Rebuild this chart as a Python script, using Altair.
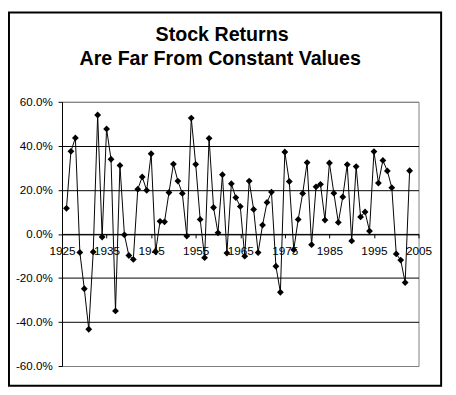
import altair as alt
import pandas as pd

YEARS = [1926, 1927, 1928, 1929, 1930, 1931, 1932, 1933, 1934, 1935,
         1936, 1937, 1938, 1939, 1940, 1941, 1942, 1943, 1944, 1945,
         1946, 1947, 1948, 1949, 1950, 1951, 1952, 1953, 1954, 1955,
         1956, 1957, 1958, 1959, 1960, 1961, 1962, 1963, 1964, 1965,
         1966, 1967, 1968, 1969, 1970, 1971, 1972, 1973, 1974, 1975,
         1976, 1977, 1978, 1979, 1980, 1981, 1982, 1983, 1984, 1985,
         1986, 1987, 1988, 1989, 1990, 1991, 1992, 1993, 1994, 1995,
         1996, 1997, 1998, 1999, 2000, 2001, 2002, 2003]

RETURNS_PCT = [11.6, 37.5, 43.6, -8.4, -24.9, -43.3, -8.2, 54.0, -1.4, 47.7,
               33.9, -35.0, 31.1, -0.4, -9.8, -11.6, 20.3, 25.9, 19.8, 36.4,
               -8.1, 5.7, 5.5, 18.8, 31.7, 24.0, 18.4, -1.0, 52.6, 31.6,
               6.6, -10.8, 43.4, 12.0, 0.5, 26.9, -8.7, 22.8, 16.5, 12.5,
               -10.1, 24.0, 11.1, -8.5, 4.0, 14.3, 19.0, -14.7, -26.5, 37.2,
               23.8, -7.2, 6.6, 18.4, 32.4, -4.9, 21.4, 22.5, 6.3, 32.2,
               18.5, 5.2, 16.8, 31.5, -3.2, 30.6, 7.7, 10.0, 1.3, 37.4,
               23.1, 33.4, 28.6, 21.0, -9.1, -11.9, -22.1, 28.7]

X_TICKS = [1925, 1935, 1945, 1955, 1965, 1975, 1985, 1995, 2005]
Y_TICKS = [-0.6, -0.4, -0.2, 0.0, 0.2, 0.4, 0.6]
TITLE_LINES = ["Stock Returns", "Are Far From Constant Values"]

FONT = "Liberation Sans"

df = pd.DataFrame({"year": YEARS, "ret": [v / 100 for v in RETURNS_PCT]})

x_enc = alt.X(
    "year:Q",
    scale=alt.Scale(domain=[1925, 2005], nice=False, zero=False),
    axis=alt.Axis(
        values=X_TICKS, format="d", title=None, offset=-134.5,
        labelFont=FONT, labelFontSize=12, labelColor="black",
        tickColor="black", domainColor="black", tickSize=4,
        labelPadding=8, grid=False, labelFlush=False,
        labelOverlap=False, labelBound=False,
    ),
)
y_enc = alt.Y(
    "ret:Q",
    scale=alt.Scale(domain=[-0.6, 0.6], nice=False, zero=False),
    axis=alt.Axis(
        values=Y_TICKS, title=None,
        labelExpr="(datum.value < 0 ? '-' : '') + format(abs(datum.value), '.1%')",
        labelFont=FONT, labelFontSize=11.8, labelColor="black",
        tickColor="black", domainColor="black", tickSize=4, labelPadding=6,
        grid=True,
        gridColor=alt.condition("abs(datum.value) > 0.5", alt.value("#808080"), alt.value("black")),
        gridWidth=1,
    ),
)

line = alt.Chart(df).mark_line(color="black", strokeWidth=1).encode(x=x_enc, y=y_enc)
pts = alt.Chart(df).mark_point(shape="diamond", filled=True, color="black",
                               size=48, opacity=1).encode(x=x_enc, y=y_enc)

t1 = alt.Chart(pd.DataFrame({"t": [TITLE_LINES[0]]})).mark_text(
    font=FONT, fontSize=20, fontWeight="bold", color="black",
    align="center", baseline="alphabetic"
).encode(text="t:N", x=alt.value(163), y=alt.value(-62))
t2 = alt.Chart(pd.DataFrame({"t": [TITLE_LINES[1]]})).mark_text(
    font=FONT, fontSize=20, fontWeight="bold", color="black",
    align="center", baseline="alphabetic"
).encode(text="t:N", x=alt.value(161), y=alt.value(-37))

border = alt.Chart(pd.DataFrame({"a": [0]})).mark_rect(
    fillOpacity=0, stroke="black", strokeWidth=2
).encode(x=alt.value(-54), x2=alt.value(386), y=alt.value(-91), y2=alt.value(289))

chart = alt.layer(line, pts, t1, t2, border).properties(
    width=363, height=269,
    autosize=alt.AutoSizeParams(type="none"),
    padding={"left": 55, "top": 92, "right": 30, "bottom": 26},
    background="white",
).configure_view(stroke="#808080", strokeWidth=1)

chart.save("out.html", embed_options={"renderer": "svg", "actions": False})
